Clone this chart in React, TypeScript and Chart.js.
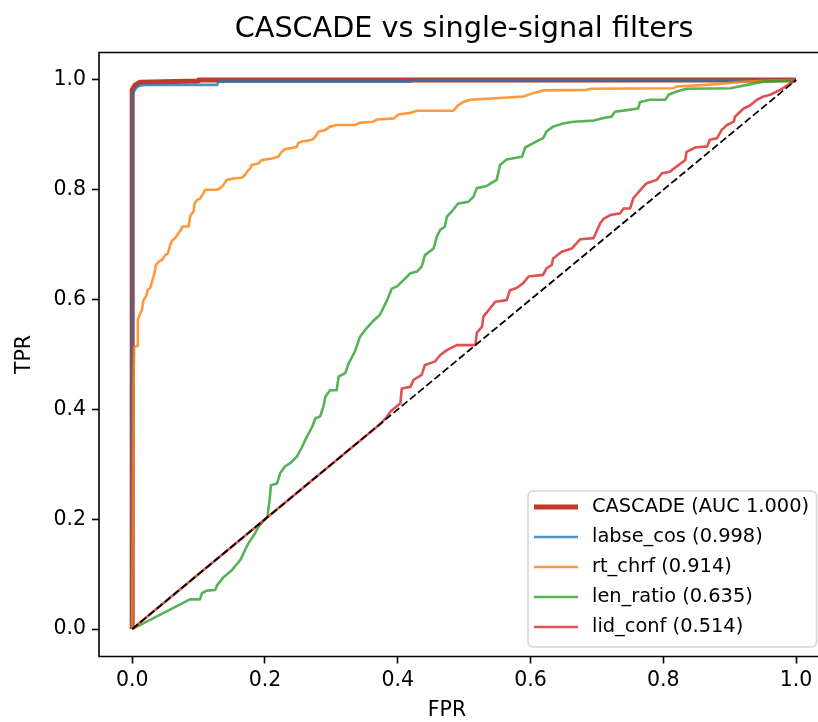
import React, { useEffect, useRef } from 'react';
import { Chart, registerables } from 'chart.js';

Chart.register(...registerables);

const TITLE = 'CASCADE vs single-signal filters';
const X_LABEL = 'FPR';
const Y_LABEL = 'TPR';
const TICKS = [0, 0.2, 0.4, 0.6, 0.8, 1.0];

const SERIES_LABELS = [
  'CASCADE (AUC 1.000)',
  'labse_cos (0.998)',
  'rt_chrf (0.914)',
  'len_ratio (0.635)',
  'lid_conf (0.514)',
];

const CASCADE_FPR = [0, 0, 0.004, 0.012, 0.1, 0.1, 1];
const CASCADE_TPR = [0, 0.982, 0.99, 0.996, 0.998, 1, 1];

const LABSE_FPR = [0, 0, 0.003, 0.008, 0.017, 0.128, 0.13, 0.42, 0.42, 1];
const LABSE_TPR = [0, 0.97, 0.98, 0.988, 0.991, 0.991, 0.997, 0.997, 1, 1];

const RT_CHRF_FPR = [
  0, 0.002, 0.003, 0.0085, 0.0085, 0.012, 0.0146, 0.017, 0.0206, 0.0236, 0.027, 0.0306, 0.0336,
  0.0357, 0.0397, 0.0447, 0.0497, 0.0537, 0.0572, 0.0597, 0.0648, 0.0698, 0.0738, 0.0758, 0.0849,
  0.0873, 0.0899, 0.0924, 0.0939, 0.0974, 0.1024, 0.1074, 0.1099, 0.1275, 0.1325, 0.1375, 0.1426,
  0.155, 0.165, 0.17, 0.173, 0.178, 0.18, 0.19, 0.195, 0.21, 0.22, 0.225, 0.23, 0.24, 0.248, 0.25,
  0.256, 0.271, 0.276, 0.281, 0.291, 0.298, 0.308, 0.336, 0.343, 0.363, 0.369, 0.394, 0.401, 0.419,
  0.429, 0.484, 0.491, 0.499, 0.509, 0.554, 0.589, 0.604, 0.619, 0.685, 0.69, 0.815, 0.82, 0.866,
  0.896, 0.911, 0.941, 1,
];
const RT_CHRF_TPR = [
  0, 0.457, 0.514, 0.516, 0.563, 0.575, 0.581, 0.599, 0.605, 0.618, 0.621, 0.636, 0.648, 0.663,
  0.669, 0.672, 0.681, 0.684, 0.699, 0.707, 0.712, 0.721, 0.727, 0.733, 0.733, 0.751, 0.757, 0.76,
  0.775, 0.781, 0.784, 0.794, 0.8, 0.8, 0.803, 0.809, 0.818, 0.821, 0.822, 0.827, 0.833, 0.839,
  0.845, 0.848, 0.854, 0.857, 0.86, 0.869, 0.874, 0.876, 0.878, 0.885, 0.888, 0.891, 0.897, 0.906,
  0.909, 0.915, 0.918, 0.918, 0.922, 0.924, 0.928, 0.93, 0.937, 0.94, 0.944, 0.944, 0.954, 0.96,
  0.964, 0.967, 0.97, 0.976, 0.981, 0.982, 0.984, 0.985, 0.988, 0.991, 0.994, 0.996, 0.998, 1,
];

const LEN_RATIO_FPR = [
  0, 0.087, 0.102, 0.105, 0.112, 0.125, 0.128, 0.138, 0.15, 0.163, 0.17, 0.175, 0.185, 0.19, 0.204,
  0.205, 0.207, 0.209, 0.218, 0.223, 0.23, 0.238, 0.248, 0.256, 0.263, 0.271, 0.276, 0.283, 0.288,
  0.291, 0.298, 0.308, 0.311, 0.321, 0.326, 0.334, 0.338, 0.343, 0.351, 0.362, 0.373, 0.384, 0.391,
  0.399, 0.409, 0.419, 0.429, 0.436, 0.441, 0.454, 0.459, 0.464, 0.471, 0.474, 0.481, 0.491, 0.506,
  0.514, 0.519, 0.534, 0.549, 0.554, 0.564, 0.587, 0.592, 0.604, 0.619, 0.624, 0.634, 0.65, 0.665,
  0.695, 0.707, 0.722, 0.727, 0.745, 0.762, 0.765, 0.78, 0.803, 0.808, 0.82, 0.835, 0.901, 0.926,
  0.951, 1,
];
const LEN_RATIO_TPR = [
  0, 0.054, 0.054, 0.065, 0.07, 0.071, 0.08, 0.095, 0.107, 0.126, 0.144, 0.156, 0.174, 0.186, 0.205,
  0.217, 0.235, 0.262, 0.265, 0.284, 0.296, 0.302, 0.314, 0.332, 0.35, 0.368, 0.384, 0.387, 0.405,
  0.423, 0.435, 0.435, 0.46, 0.466, 0.484, 0.502, 0.514, 0.532, 0.545, 0.56, 0.572, 0.599, 0.62,
  0.624, 0.636, 0.648, 0.651, 0.66, 0.681, 0.693, 0.715, 0.727, 0.733, 0.751, 0.76, 0.775, 0.778,
  0.787, 0.803, 0.807, 0.818, 0.845, 0.855, 0.86, 0.877, 0.885, 0.894, 0.906, 0.915, 0.921, 0.924,
  0.926, 0.93, 0.933, 0.942, 0.945, 0.948, 0.96, 0.964, 0.964, 0.973, 0.979, 0.984, 0.985, 0.991,
  0.997, 1,
];

const LID_CONF_FPR = [
  0, 0.375, 0.384, 0.389, 0.404, 0.406, 0.419, 0.424, 0.436, 0.441, 0.456, 0.464, 0.474, 0.489,
  0.517, 0.519, 0.527, 0.529, 0.539, 0.547, 0.564, 0.569, 0.579, 0.589, 0.597, 0.619, 0.624, 0.632,
  0.634, 0.647, 0.662, 0.675, 0.695, 0.705, 0.71, 0.72, 0.735, 0.74, 0.75, 0.755, 0.768, 0.775,
  0.79, 0.798, 0.81, 0.823, 0.833, 0.835, 0.848, 0.866, 0.87, 0.881, 0.888, 0.896, 0.906, 0.908,
  0.921, 0.931, 0.941, 0.951, 0.961, 0.976, 1,
];
const LID_CONF_TPR = [
  0, 0.375, 0.387, 0.396, 0.411, 0.438, 0.441, 0.454, 0.463, 0.481, 0.487, 0.499, 0.508, 0.517,
  0.517, 0.539, 0.551, 0.569, 0.584, 0.596, 0.599, 0.617, 0.621, 0.63, 0.642, 0.645, 0.657, 0.663,
  0.675, 0.687, 0.693, 0.71, 0.712, 0.739, 0.747, 0.754, 0.757, 0.766, 0.766, 0.785, 0.803, 0.812,
  0.818, 0.83, 0.833, 0.845, 0.854, 0.869, 0.877, 0.879, 0.891, 0.894, 0.909, 0.918, 0.924, 0.933,
  0.948, 0.954, 0.964, 0.97, 0.973, 0.982, 1,
];

const DIAG_FPR = [0, 1];
const DIAG_TPR = [0, 1];

// visible x range: the original axes run to 1.05 but the picture is cut at ~1.033
const X_MIN = -0.05;
const X_MAX = 1.033;
const Y_MIN = -0.05;
const Y_MAX = 1.05;

const FONT = 'DejaVu Sans';

function pts(xs: number[], ys: number[]) {
  return xs.map((x, i) => ({ x, y: ys[i] }));
}

const decorPlugin = {
  id: 'decor',
  afterDatasetsDraw(chart: any) {
    const { ctx, chartArea, scales } = chart;
    const { left, right, top, bottom } = chartArea;
    const axesCentre = scales.x.getPixelForValue(0.5);
    ctx.save();
    // spines: left, top, bottom (the right one lies beyond the cut)
    ctx.strokeStyle = '#000';
    ctx.lineWidth = 1.6;
    ctx.lineCap = 'butt';
    ctx.beginPath();
    ctx.moveTo(right + 5, top);
    ctx.lineTo(left, top);
    ctx.lineTo(left, bottom);
    ctx.lineTo(right + 5, bottom);
    ctx.stroke();

    // title centred over the (uncut) axes
    ctx.fillStyle = '#000';
    ctx.textBaseline = 'middle';
    ctx.textAlign = 'center';
    ctx.font = `28.7px "${FONT}"`;
    ctx.fillText(TITLE, axesCentre, 30);

    // axis labels
    ctx.font = `20.5px "${FONT}"`;
    ctx.fillText(X_LABEL, 447, 711);
    ctx.save();
    ctx.translate(25, (top + bottom) / 2);
    ctx.rotate(-Math.PI / 2);
    ctx.fillText(Y_LABEL, 0, 0);
    ctx.restore();

    // legend, lower right inside the axes
    const items = chart.data.datasets.filter((d: any) => d.showInLegend);
    const boxRight = 816.5;
    const boxBottom = bottom - 9.5;
    const boxLeft = 528;
    const boxTop = 491;
    const r = 5;
    ctx.beginPath();
    ctx.moveTo(boxLeft + r, boxTop);
    ctx.lineTo(boxRight - r, boxTop);
    ctx.arcTo(boxRight, boxTop, boxRight, boxTop + r, r);
    ctx.lineTo(boxRight, boxBottom - r);
    ctx.arcTo(boxRight, boxBottom, boxRight - r, boxBottom, r);
    ctx.lineTo(boxLeft + r, boxBottom);
    ctx.arcTo(boxLeft, boxBottom, boxLeft, boxBottom - r, r);
    ctx.lineTo(boxLeft, boxTop + r);
    ctx.arcTo(boxLeft, boxTop, boxLeft + r, boxTop, r);
    ctx.closePath();
    ctx.fillStyle = 'rgba(255,255,255,0.8)';
    ctx.fill();
    ctx.strokeStyle = 'rgba(204,204,204,0.8)';
    ctx.lineWidth = 1.6;
    ctx.stroke();

    ctx.font = `19.4px "${FONT}"`;
    ctx.textBaseline = 'middle';
    ctx.textAlign = 'left';
    items.forEach((d: any, i: number) => {
      const y = boxTop + 16 + i * 30;
      ctx.beginPath();
      ctx.strokeStyle = d.borderColor;
      ctx.lineWidth = d.borderWidth;
      ctx.lineCap = 'butt';
      ctx.moveTo(boxLeft + 6, y);
      ctx.lineTo(boxLeft + 50, y);
      ctx.stroke();
      ctx.fillStyle = '#000';
      ctx.fillText(d.label, boxLeft + 64, y);
    });
    ctx.restore();
  },
};

export default function App() {
  const ref = useRef<HTMLCanvasElement>(null);

  useEffect(() => {
    document.body.style.margin = '0';
    document.body.style.overflow = 'hidden';
    const canvas = ref.current!;
    const common = {
      pointRadius: 0,
      pointHoverRadius: 0,
      tension: 0,
      fill: false,
      showLine: true,
      borderJoinStyle: 'round' as const,
    };
    const tickFont = { family: FONT, size: 20.5 };
    const chart = new Chart(canvas, {
      type: 'scatter',
      data: {
        datasets: [
          { ...common, label: SERIES_LABELS[0], data: pts(CASCADE_FPR, CASCADE_TPR), borderColor: '#c0392b', borderWidth: 5, order: 6, showInLegend: true },
          { ...common, label: SERIES_LABELS[1], data: pts(LABSE_FPR, LABSE_TPR), borderColor: 'rgba(31,119,180,0.8)', borderWidth: 2.6, order: 5, showInLegend: true },
          { ...common, label: SERIES_LABELS[2], data: pts(RT_CHRF_FPR, RT_CHRF_TPR), borderColor: 'rgba(255,127,14,0.8)', borderWidth: 2.6, order: 4, showInLegend: true },
          { ...common, label: SERIES_LABELS[3], data: pts(LEN_RATIO_FPR, LEN_RATIO_TPR), borderColor: 'rgba(44,160,44,0.8)', borderWidth: 2.6, order: 3, showInLegend: true },
          { ...common, label: SERIES_LABELS[4], data: pts(LID_CONF_FPR, LID_CONF_TPR), borderColor: 'rgba(214,39,40,0.8)', borderWidth: 2.6, order: 2, showInLegend: true },
          { ...common, label: 'chance', data: pts(DIAG_FPR, DIAG_TPR), borderColor: '#000', borderWidth: 1.8, borderDash: [7.4, 3.2], order: 1, showInLegend: false },
        ] as any,
      },
      options: {
        responsive: false,
        animation: false,
        devicePixelRatio: 1,
        layout: { padding: { left: 0, right: 0, top: 52.5, bottom: 0 } },
        plugins: {
          legend: { display: false },
          tooltip: { enabled: false },
          title: { display: false },
        },
        scales: {
          x: {
            type: 'linear',
            min: X_MIN,
            max: X_MAX,
            afterBuildTicks: (scale: any) => {
              scale.ticks = TICKS.map((v) => ({ value: v }));
            },
            afterFit: (scale: any) => {
              scale.height = 65.5;
            },
            ticks: {
              color: '#000',
              font: tickFont,
              padding: 5,
              maxRotation: 0,
              autoSkip: false,
              callback: (v: any) => Number(v).toFixed(1),
            },
            grid: { display: true, drawOnChartArea: false, drawTicks: true, tickLength: 7, tickWidth: 1.6, tickColor: '#000' },
            border: { display: false },
          },
          y: {
            type: 'linear',
            min: Y_MIN,
            max: Y_MAX,
            afterBuildTicks: (scale: any) => {
              scale.ticks = TICKS.map((v) => ({ value: v }));
            },
            afterFit: (scale: any) => {
              scale.width = 99;
            },
            ticks: {
              color: '#000',
              font: tickFont,
              padding: 6,
              autoSkip: false,
              callback: (v: any) => Number(v).toFixed(1),
            },
            grid: { display: true, drawOnChartArea: false, drawTicks: true, tickLength: 7, tickWidth: 1.6, tickColor: '#000' },
            border: { display: false },
          },
        },
      },
      plugins: [decorPlugin],
    });
    return () => chart.destroy();
  }, []);

  return (
    <div style={{ width: 818, height: 722, overflow: 'hidden', background: '#fff' }}>
      <canvas ref={ref} width={818} height={722} style={{ display: 'block', width: 818, height: 722 }} />
    </div>
  );
}
